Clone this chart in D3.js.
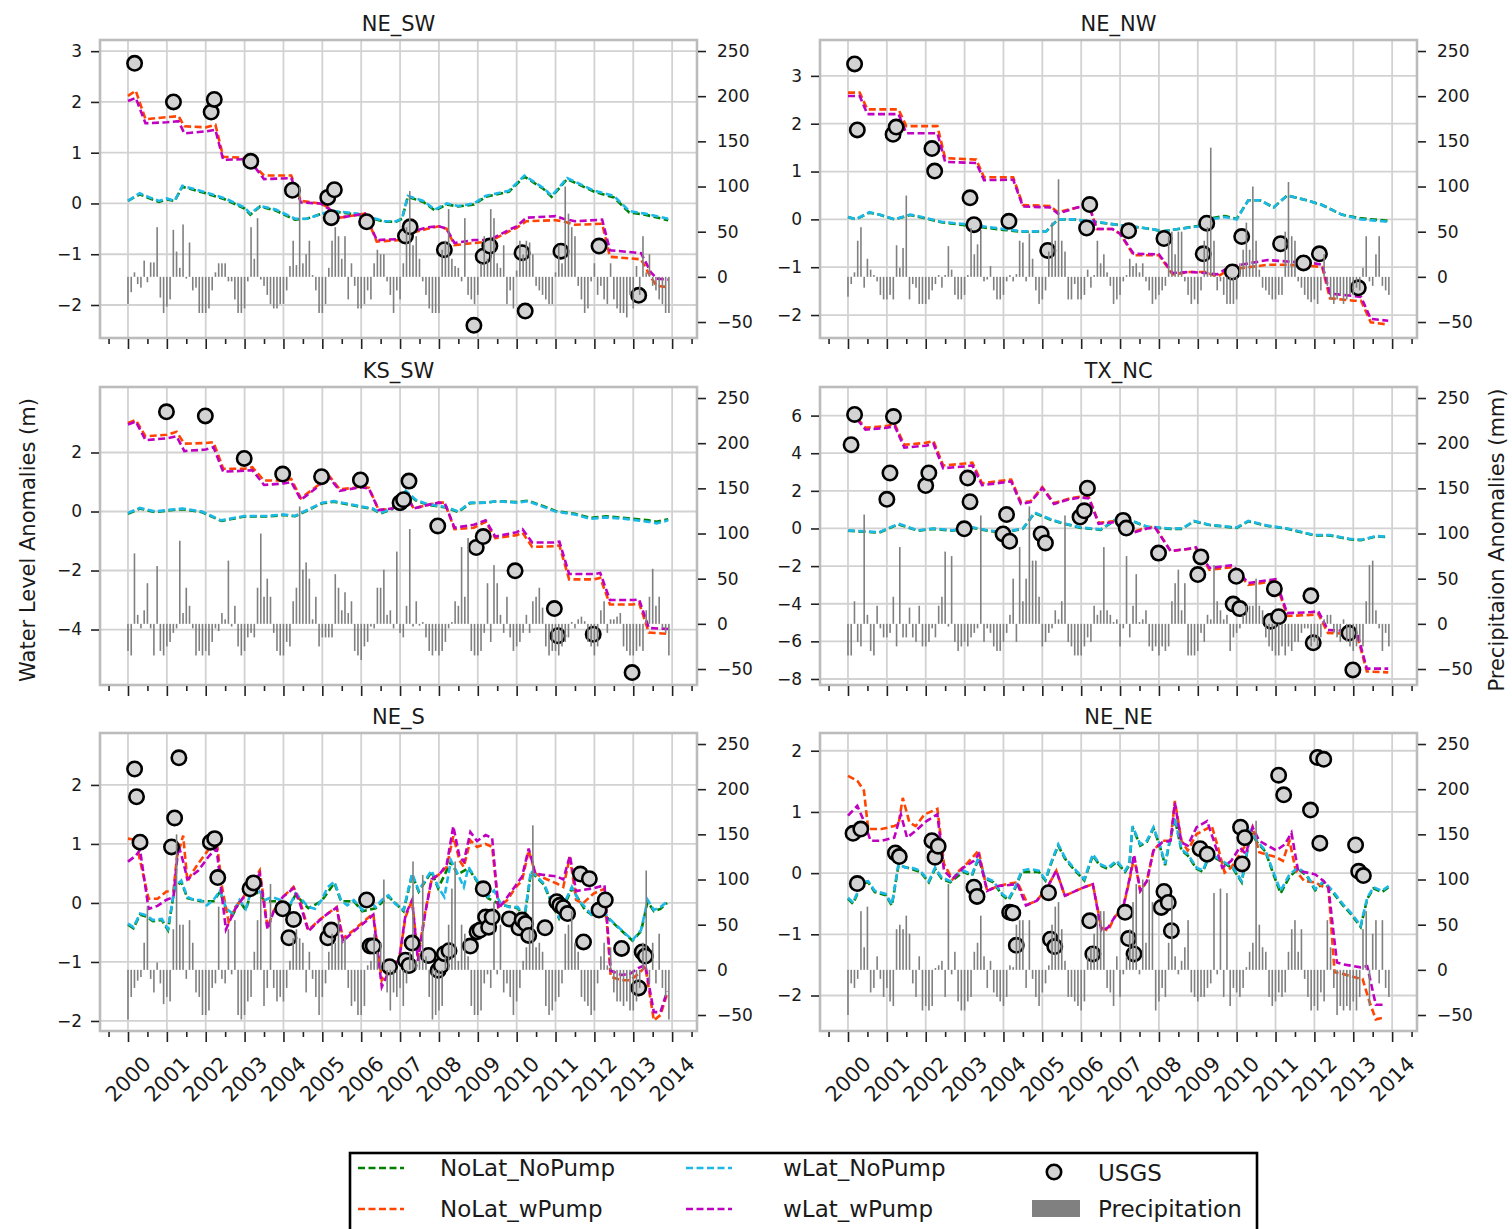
<!DOCTYPE html>
<html>
<head>
<meta charset="utf-8">
<script src="https://cdn.jsdelivr.net/npm/d3@7"></script>
<style>
body{margin:0;background:#fff}
text{font-family:"DejaVu Sans",sans-serif;fill:#1a1a1a}
</style>
</head>
<body>
<svg id="chart" width="1512" height="1229"></svg>
<script>
// ---------- data ----------
var yearTicks = [2000,2001,2002,2003,2004,2005,2006,2007,2008,2009,2010,2011,2012,2013,2014];
var precipTicks = [-50,0,50,100,150,200,250];
var seriesNames = ["NoLat_NoPump","NoLat_wPump","wLat_NoPump","wLat_wPump"];
var seriesColors = ["#008000","#ff4500","#1cb8e8","#c000c0"];

// NE_SW
var neSwNoLatNoPump = [[2000.0,0.05],[2000.3,0.18],[2000.55,0.1],[2000.8,0.03],[2001.0,0.08],[2001.2,0.05],[2001.4,0.33],[2002.0,0.2],[2002.5,0.08],[2003.0,-0.1],[2003.15,-0.22],[2003.4,-0.06],[2003.8,-0.14],[2004.3,-0.32],[2004.6,-0.3],[2005.0,-0.2],[2005.3,-0.16],[2005.9,-0.22],[2006.6,-0.36],[2006.9,-0.36],[2007.05,-0.3],[2007.2,0.13],[2007.6,0.03],[2007.9,-0.14],[2008.2,-0.02],[2008.5,-0.06],[2008.9,-0.02],[2009.2,0.13],[2009.8,0.23],[2010.2,0.53],[2010.7,0.28],[2010.9,0.13],[2011.3,0.48],[2012.0,0.23],[2012.5,0.12],[2012.9,-0.18],[2013.3,-0.22],[2013.9,-0.33]];
var neSwNoLatWPump = [[2000.0,2.12],[2000.2,2.22],[2000.45,1.66],[2001.0,1.7],[2001.3,1.72],[2001.45,1.52],[2002.0,1.5],[2002.25,1.55],[2002.45,0.92],[2002.95,0.9],[2003.3,0.7],[2003.5,0.55],[2004.2,0.55],[2004.45,0.05],[2004.95,0.0],[2005.2,-0.1],[2005.45,-0.28],[2006.1,-0.2],[2006.4,-0.75],[2007.0,-0.72],[2007.2,-0.6],[2007.7,-0.5],[2008.0,-0.45],[2008.2,-0.5],[2008.4,-0.82],[2008.9,-0.78],[2009.3,-0.75],[2009.8,-0.55],[2010.0,-0.48],[2010.25,-0.35],[2011.0,-0.33],[2011.2,-0.35],[2011.5,-0.42],[2012.2,-0.4],[2012.4,-1.05],[2013.2,-1.1],[2013.45,-1.45],[2013.6,-1.62],[2013.9,-1.65]];
var neSwWLatNoPump = [[2000.0,0.05],[2000.3,0.2],[2000.55,0.12],[2000.8,0.05],[2001.0,0.1],[2001.2,0.05],[2001.4,0.35],[2002.0,0.22],[2002.5,0.1],[2003.0,-0.08],[2003.15,-0.2],[2003.4,-0.05],[2003.8,-0.12],[2004.3,-0.3],[2004.6,-0.3],[2005.0,-0.2],[2005.3,-0.15],[2005.9,-0.2],[2006.6,-0.35],[2006.9,-0.35],[2007.05,-0.3],[2007.2,0.15],[2007.6,0.05],[2007.9,-0.12],[2008.2,0.0],[2008.5,-0.05],[2008.9,0.0],[2009.2,0.15],[2009.8,0.25],[2010.2,0.55],[2010.7,0.3],[2010.9,0.15],[2011.3,0.5],[2012.0,0.25],[2012.5,0.15],[2012.9,-0.15],[2013.3,-0.2],[2013.9,-0.3]];
var neSwWLatWPump = [[2000.0,2.02],[2000.2,2.08],[2000.45,1.58],[2001.0,1.6],[2001.3,1.62],[2001.45,1.38],[2002.0,1.42],[2002.25,1.45],[2002.45,0.86],[2002.95,0.87],[2003.3,0.68],[2003.5,0.48],[2004.2,0.5],[2004.45,0.02],[2004.95,0.0],[2005.2,-0.12],[2005.45,-0.28],[2006.1,-0.2],[2006.4,-0.72],[2007.0,-0.7],[2007.2,-0.58],[2007.7,-0.47],[2008.0,-0.45],[2008.2,-0.5],[2008.4,-0.78],[2008.9,-0.72],[2009.3,-0.72],[2009.8,-0.52],[2010.0,-0.45],[2010.25,-0.28],[2011.0,-0.25],[2011.2,-0.3],[2011.5,-0.35],[2012.2,-0.32],[2012.4,-0.92],[2013.2,-0.98],[2013.45,-1.35],[2013.6,-1.48],[2013.9,-1.5]];
var neSwUsgs = [[2000.17,2.76],[2001.17,2.0],[2002.14,1.8],[2002.22,2.05],[2003.16,0.83],[2004.23,0.26],[2005.14,0.12],[2005.31,0.27],[2005.23,-0.28],[2006.14,-0.36],[2007.14,-0.64],[2007.26,-0.46],[2008.14,-0.91],[2008.9,-2.4],[2009.14,-1.04],[2009.31,-0.84],[2010.14,-0.97],[2010.22,-2.12],[2011.14,-0.94],[2012.12,-0.84],[2013.14,-1.81]];
var neSwPrecip = [
 -30,-17,5,-8,-12,18,-6,16,16,55,-23,-40,
 -33,-25,52,28,10,58,-2,38,-15,-12,-40,-40,
 -40,-35,-15,5,15,15,15,-5,-5,-25,-40,-40,
 -35,-5,55,20,65,-3,-10,-20,-30,-35,-35,-30,
 -30,-15,12,40,13,100,15,25,40,2,-15,-40,
 -40,-30,10,40,55,45,20,45,-25,15,-10,-35,
 -35,-30,-15,-25,15,30,25,25,-5,-20,-40,-15,
 -25,15,55,95,35,45,20,-5,-20,-35,-40,-40,
 -40,30,40,75,20,12,10,-5,65,-20,-25,-30,
 -20,15,45,20,75,65,15,10,35,-30,-15,-35,
 7,40,25,40,38,25,-10,-15,-20,-25,-30,-30,
 5,35,15,100,70,55,45,-10,-25,-40,-35,-5,
 15,-20,-10,-25,-30,15,-25,-35,-40,-40,-45,-20,
 -35,12,-20,45,5,25,-10,-15,-25,-30,-40,-40];

// NE_NW
var neNwNoLatNoPump = [[2000.0,0.05],[2000.2,0.0],[2000.55,0.14],[2000.8,0.1],[2001.2,0.0],[2001.6,0.09],[2001.9,0.04],[2002.4,-0.06],[2003.0,-0.12],[2003.5,-0.17],[2004.0,-0.22],[2004.5,-0.26],[2005.1,-0.25],[2005.4,0.0],[2005.8,0.0],[2006.4,-0.06],[2006.8,-0.1],[2007.3,-0.15],[2007.8,-0.2],[2008.1,-0.25],[2008.5,-0.2],[2009.0,-0.14],[2009.3,0.02],[2009.7,0.07],[2010.0,0.01],[2010.3,0.4],[2010.6,0.4],[2010.95,0.25],[2011.3,0.5],[2011.8,0.4],[2012.2,0.3],[2012.7,0.1],[2013.2,0.02],[2013.9,-0.03]];
var neNwNoLatWPump = [[2000.0,2.65],[2000.3,2.65],[2000.5,2.3],[2001.3,2.3],[2001.5,1.95],[2002.3,1.95],[2002.5,1.28],[2003.3,1.25],[2003.5,0.88],[2004.25,0.88],[2004.5,0.3],[2005.2,0.28],[2005.4,0.15],[2005.9,0.25],[2006.2,0.3],[2006.4,-0.2],[2006.8,-0.2],[2007.0,-0.3],[2007.35,-0.75],[2008.0,-0.75],[2008.35,-1.15],[2008.8,-1.1],[2009.2,-1.1],[2009.5,-1.2],[2009.8,-1.05],[2010.3,-1.0],[2010.8,-0.95],[2011.3,-0.95],[2012.0,-0.98],[2012.2,-1.0],[2012.4,-1.65],[2013.0,-1.7],[2013.2,-1.7],[2013.45,-2.15],[2013.9,-2.2]];
var neNwWLatNoPump = [[2000.0,0.05],[2000.2,0.0],[2000.55,0.15],[2000.8,0.1],[2001.2,0.0],[2001.6,0.1],[2001.9,0.05],[2002.4,-0.05],[2003.0,-0.1],[2003.5,-0.15],[2004.0,-0.2],[2004.5,-0.25],[2005.1,-0.25],[2005.4,0.0],[2005.8,0.0],[2006.4,-0.05],[2006.8,-0.1],[2007.3,-0.15],[2007.8,-0.2],[2008.1,-0.25],[2008.5,-0.2],[2009.0,-0.15],[2009.3,0.0],[2009.7,0.05],[2010.0,0.0],[2010.3,0.4],[2010.6,0.4],[2010.95,0.25],[2011.3,0.5],[2011.8,0.4],[2012.2,0.3],[2012.7,0.1],[2013.2,0.0],[2013.9,-0.05]];
var neNwWLatWPump = [[2000.0,2.58],[2000.3,2.58],[2000.5,2.2],[2001.3,2.2],[2001.5,1.8],[2002.3,1.8],[2002.5,1.2],[2003.3,1.18],[2003.5,0.82],[2004.25,0.83],[2004.5,0.27],[2005.2,0.25],[2005.4,0.12],[2005.9,0.25],[2006.2,0.3],[2006.4,-0.2],[2006.8,-0.2],[2007.0,-0.3],[2007.35,-0.72],[2008.0,-0.73],[2008.35,-1.12],[2008.8,-1.1],[2009.2,-1.12],[2009.5,-1.15],[2009.8,-1.0],[2010.3,-0.92],[2010.8,-0.85],[2011.3,-0.88],[2012.0,-0.92],[2012.2,-0.95],[2012.4,-1.55],[2013.0,-1.6],[2013.2,-1.62],[2013.45,-2.08],[2013.9,-2.12]];
var neNwUsgs = [[2000.17,3.25],[2000.24,1.87],[2001.16,1.78],[2001.24,1.93],[2002.16,1.48],[2002.23,1.01],[2003.14,0.45],[2003.24,-0.11],[2004.14,-0.04],[2005.14,-0.65],[2006.14,-0.18],[2006.22,0.31],[2007.22,-0.24],[2008.13,-0.4],[2009.14,-0.72],[2009.23,-0.08],[2009.89,-1.1],[2010.13,-0.36],[2011.13,-0.51],[2011.72,-0.91],[2012.13,-0.72],[2013.13,-1.43]];
var neNwPrecip = [
 -22,-8,5,40,55,-12,20,8,2,-5,-20,-25,
 -25,-20,-25,35,10,32,90,-25,-8,-12,-30,-30,
 -30,-25,-15,-8,2,-12,2,34,8,-20,-25,-25,
 -20,2,54,25,36,52,-5,-3,12,-15,-25,-25,
 -20,-5,2,-5,3,40,38,-5,48,20,-15,-30,
 -25,-15,28,60,40,108,40,28,-25,-25,-8,-25,
 -25,-20,8,-12,2,40,15,25,5,-10,-30,-25,
 -20,-5,2,20,12,15,5,15,-5,-15,-30,-25,
 -20,-15,-10,45,50,25,50,50,-5,-20,-30,-25,
 -30,-15,40,55,143,40,-15,-5,-20,-30,-30,-30,
 -25,15,30,60,30,100,40,8,-12,-15,-20,-25,
 -25,-20,-20,50,105,45,40,-5,-12,-20,-25,-28,
 -25,-30,-15,25,-10,-25,-30,-25,-20,-30,-25,-20,
 -20,-12,-15,10,45,-5,-10,25,45,-10,-15,-20];

// KS_SW
var ksSwNoLatNoPump = [[2000.0,-0.08],[2000.3,0.1],[2000.7,-0.02],[2001.0,0.03],[2001.4,0.08],[2001.9,-0.02],[2002.4,-0.32],[2003.0,-0.17],[2003.6,-0.17],[2004.0,-0.12],[2004.3,-0.16],[2005.0,0.28],[2005.3,0.33],[2005.9,0.18],[2006.3,0.08],[2006.5,-0.07],[2006.8,0.08],[2007.15,0.68],[2007.4,0.38],[2007.7,0.23],[2008.2,0.13],[2008.5,-0.02],[2008.8,0.28],[2009.2,0.3],[2009.5,0.35],[2010.0,0.32],[2010.3,0.37],[2011.0,0.02],[2011.5,-0.08],[2011.9,-0.22],[2012.3,-0.16],[2012.8,-0.22],[2013.4,-0.3],[2013.6,-0.35],[2013.9,-0.26]];
var ksSwNoLatWPump = [[2000.0,3.0],[2000.2,3.1],[2000.45,2.55],[2001.0,2.6],[2001.25,2.7],[2001.45,2.3],[2002.0,2.32],[2002.2,2.35],[2002.45,1.45],[2003.0,1.45],[2003.2,1.5],[2003.5,1.05],[2004.0,1.05],[2004.2,1.1],[2004.45,0.45],[2004.9,0.9],[2005.0,1.1],[2005.15,1.25],[2005.45,0.75],[2005.8,0.8],[2006.0,0.85],[2006.2,0.8],[2006.45,0.05],[2006.8,0.1],[2007.0,0.4],[2007.15,0.6],[2007.35,0.1],[2007.8,0.25],[2008.0,0.3],[2008.15,0.3],[2008.4,-0.6],[2008.9,-0.55],[2009.2,-0.35],[2009.45,-0.9],[2010.0,-0.8],[2010.15,-0.72],[2010.4,-1.2],[2010.95,-1.18],[2011.1,-1.15],[2011.35,-2.3],[2012.0,-2.3],[2012.15,-2.25],[2012.4,-3.15],[2013.0,-3.15],[2013.15,-3.1],[2013.4,-4.1],[2013.9,-4.15]];
var ksSwWLatNoPump = [[2000.0,-0.05],[2000.3,0.12],[2000.7,0.0],[2001.0,0.05],[2001.4,0.1],[2001.9,0.0],[2002.4,-0.3],[2003.0,-0.15],[2003.6,-0.15],[2004.0,-0.1],[2004.3,-0.15],[2005.0,0.3],[2005.3,0.35],[2005.9,0.2],[2006.3,0.1],[2006.5,-0.05],[2006.8,0.1],[2007.15,0.7],[2007.4,0.4],[2007.7,0.25],[2008.2,0.15],[2008.5,0.0],[2008.8,0.3],[2009.2,0.3],[2009.5,0.35],[2010.0,0.3],[2010.3,0.35],[2011.0,0.0],[2011.5,-0.1],[2011.9,-0.25],[2012.3,-0.2],[2012.8,-0.25],[2013.4,-0.35],[2013.6,-0.4],[2013.9,-0.3]];
var ksSwWLatWPump = [[2000.0,2.95],[2000.2,3.05],[2000.45,2.42],[2001.0,2.48],[2001.25,2.55],[2001.45,2.05],[2002.0,2.1],[2002.2,2.18],[2002.45,1.35],[2003.0,1.38],[2003.2,1.4],[2003.5,0.9],[2004.0,0.95],[2004.2,1.0],[2004.45,0.4],[2004.9,0.85],[2005.0,1.05],[2005.15,1.2],[2005.45,0.7],[2005.8,0.78],[2006.0,0.82],[2006.2,0.78],[2006.45,0.05],[2006.8,0.1],[2007.0,0.4],[2007.15,0.6],[2007.35,0.1],[2007.8,0.25],[2008.0,0.3],[2008.15,0.28],[2008.4,-0.55],[2008.9,-0.45],[2009.2,-0.3],[2009.45,-0.85],[2010.0,-0.7],[2010.15,-0.6],[2010.4,-1.05],[2010.95,-1.05],[2011.1,-1.02],[2011.35,-2.12],[2012.0,-2.12],[2012.15,-2.08],[2012.4,-3.0],[2013.0,-3.0],[2013.15,-2.98],[2013.4,-3.95],[2013.9,-3.98]];
var ksSwUsgs = [[2000.99,3.38],[2001.99,3.24],[2002.99,1.8],[2003.98,1.27],[2004.98,1.18],[2005.98,1.07],[2007.0,0.3],[2007.09,0.4],[2007.23,1.03],[2007.97,-0.49],[2008.96,-1.22],[2009.14,-0.85],[2009.96,-2.01],[2010.97,-3.29],[2011.06,-4.21],[2011.97,-4.16],[2012.97,-5.46]];
var ksSwPrecip = [
 -30,-35,78,10,-5,15,45,-5,-35,64,-30,-35,
 -25,-20,-10,-5,92,12,40,20,-5,-35,-30,-35,
 -30,-35,-20,-5,-8,12,5,70,-3,20,-25,-35,
 -30,-15,-10,-15,40,100,30,50,30,-10,-30,-35,
 -35,-20,-25,25,40,130,60,68,50,5,30,-25,
 -15,-15,-15,-15,55,40,15,35,12,25,-30,-35,
 -40,-25,-20,-3,-5,40,40,60,10,15,-5,80,
 -10,-15,20,105,-3,25,-2,2,-15,-30,-35,-30,
 -35,-30,-20,-5,2,25,20,85,30,95,-30,-35,
 -35,-30,-10,45,-20,65,45,10,-10,30,-15,-30,
 -25,-20,-10,10,-10,25,30,40,18,-25,-35,-30,
 -30,-35,-25,-20,-15,2,-5,5,8,3,-20,-25,
 -35,-25,15,25,-10,5,5,8,12,-25,-30,-35,
 -35,-30,-25,-30,15,30,61,20,30,-5,-10,-35];

// TX_NC
var txNcNoLatNoPump = [[2000.0,-0.12],[2000.8,-0.22],[2001.3,0.22],[2001.8,-0.12],[2002.2,-0.02],[2002.7,-0.12],[2003.1,0.08],[2003.6,-0.12],[2004.0,-0.22],[2004.5,-0.02],[2004.8,0.82],[2005.2,0.48],[2005.5,0.28],[2006.0,0.03],[2006.5,-0.07],[2006.9,0.48],[2007.2,0.48],[2007.7,0.08],[2008.3,-0.02],[2008.6,-0.02],[2008.9,0.38],[2009.3,0.18],[2010.0,0.03],[2010.3,0.38],[2010.8,0.13],[2011.3,-0.02],[2011.6,-0.17],[2012.0,-0.37],[2012.4,-0.37],[2012.9,-0.57],[2013.2,-0.62],[2013.6,-0.42],[2013.9,-0.47]];
var txNcNoLatWPump = [[2000.0,6.0],[2000.2,5.95],[2000.45,5.35],[2001.0,5.45],[2001.2,5.55],[2001.45,4.45],[2002.0,4.55],[2002.2,4.65],[2002.45,3.35],[2003.0,3.45],[2003.2,3.5],[2003.45,2.4],[2004.0,2.55],[2004.2,2.6],[2004.45,1.4],[2004.7,1.45],[2005.0,2.2],[2005.3,1.35],[2005.7,1.6],[2006.0,1.7],[2006.2,1.65],[2006.45,0.3],[2006.7,0.35],[2006.9,0.4],[2007.3,-0.2],[2007.7,0.05],[2007.9,0.1],[2008.3,-1.2],[2008.7,-1.1],[2008.95,-1.05],[2009.3,-2.2],[2009.9,-2.05],[2010.3,-3.0],[2010.8,-2.85],[2011.0,-2.8],[2011.3,-4.65],[2011.9,-4.6],[2012.1,-4.55],[2012.35,-5.55],[2012.9,-5.6],[2013.1,-5.7],[2013.35,-7.6],[2013.9,-7.65]];
var txNcWLatNoPump = [[2000.0,-0.1],[2000.8,-0.2],[2001.3,0.25],[2001.8,-0.1],[2002.2,0.0],[2002.7,-0.1],[2003.1,0.1],[2003.6,-0.1],[2004.0,-0.2],[2004.5,0.0],[2004.8,0.85],[2005.2,0.5],[2005.5,0.3],[2006.0,0.05],[2006.5,-0.05],[2006.9,0.5],[2007.2,0.5],[2007.7,0.1],[2008.3,0.0],[2008.6,0.0],[2008.9,0.4],[2009.3,0.2],[2010.0,0.05],[2010.3,0.4],[2010.8,0.15],[2011.3,0.0],[2011.6,-0.15],[2012.0,-0.35],[2012.4,-0.35],[2012.9,-0.55],[2013.2,-0.6],[2013.6,-0.4],[2013.9,-0.45]];
var txNcWLatWPump = [[2000.0,5.95],[2000.2,5.9],[2000.45,5.25],[2001.0,5.35],[2001.2,5.45],[2001.45,4.3],[2002.0,4.4],[2002.2,4.5],[2002.45,3.2],[2003.0,3.3],[2003.2,3.35],[2003.45,2.3],[2004.0,2.45],[2004.2,2.5],[2004.45,1.3],[2004.7,1.4],[2005.0,2.15],[2005.3,1.3],[2005.7,1.55],[2006.0,1.65],[2006.2,1.6],[2006.45,0.25],[2006.7,0.3],[2006.9,0.35],[2007.3,-0.25],[2007.7,0.0],[2007.9,0.05],[2008.3,-1.2],[2008.7,-1.1],[2008.95,-1.0],[2009.3,-2.1],[2009.9,-1.95],[2010.3,-2.9],[2010.8,-2.75],[2011.0,-2.7],[2011.3,-4.5],[2011.9,-4.45],[2012.1,-4.4],[2012.35,-5.4],[2012.9,-5.45],[2013.1,-5.55],[2013.35,-7.45],[2013.9,-7.45]];
var txNcUsgs = [[2000.08,4.45],[2000.17,6.06],[2001.0,1.55],[2001.08,2.95],[2001.17,5.95],[2002.0,2.28],[2002.08,2.95],[2002.99,-0.02],[2003.08,2.68],[2003.14,1.42],[2003.99,-0.29],[2004.08,0.74],[2004.16,-0.68],[2004.97,-0.29],[2005.08,-0.77],[2005.97,0.61],[2006.08,0.94],[2006.16,2.14],[2007.08,0.43],[2007.16,0.02],[2007.99,-1.31],[2009.0,-2.45],[2009.08,-1.51],[2009.91,-4.02],[2009.99,-2.54],[2010.08,-4.26],[2010.88,-4.93],[2010.97,-3.2],[2011.08,-4.69],[2011.91,-3.58],[2011.97,-6.08],[2012.89,-5.56],[2012.99,-7.52]];
var txNcPrecip = [
 -35,-35,25,-20,-25,121,10,-30,-35,20,-5,-15,
 -15,-10,30,-25,85,-15,-15,18,-15,-20,20,-25,
 -25,-20,-5,-15,20,30,80,-3,75,-20,-30,-25,
 -20,-25,-15,-10,-5,120,-20,-5,-10,-25,-30,-30,
 -20,-10,10,50,-20,85,25,50,130,70,70,30,
 -25,-20,-10,-5,15,5,25,120,-20,-25,-35,-35,
 -35,-25,-15,-20,20,10,15,85,15,10,2,5,
 -25,-5,75,-15,20,55,2,5,15,-25,-30,-25,
 -35,-25,-30,-25,25,45,60,15,45,-35,-35,-35,
 -30,-10,-20,10,5,65,25,15,5,10,-30,-15,
 -10,-5,10,20,20,20,50,20,15,-15,-25,-30,
 -35,-35,-25,-35,-25,-30,-20,-20,-10,-5,-5,-25,
 -20,-25,-15,5,10,10,-10,-15,-20,5,-20,-25,
 -30,-25,-20,-25,25,65,70,15,-5,-30,-10,-25];

// NE_S
var neSNoLatNoPump = [[2000.0,-0.37],[2000.14,-0.43],[2000.31,-0.2],[2000.48,-0.23],[2000.64,-0.31],[2000.87,-0.29],[2001.03,-0.46],[2001.2,0.25],[2001.37,0.36],[2001.53,0.08],[2001.87,0.03],[2002.2,0.03],[2002.37,0.19],[2002.53,-0.12],[2002.7,-0.2],[2002.87,0.03],[2003.03,-0.12],[2003.2,0.25],[2003.53,0.03],[2003.92,0.03],[2004.14,-0.09],[2004.31,0.14],[2004.64,-0.09],[2004.98,0.03],[2005.31,0.34],[2005.48,0.03],[2005.81,0.03],[2006.03,-0.14],[2006.37,-0.09],[2006.7,0.11],[2007.09,-0.14],[2007.31,0.48],[2007.48,0.19],[2007.81,0.53],[2007.98,0.25],[2008.31,0.7],[2008.48,0.48],[2008.76,0.59],[2009.09,0.25],[2009.26,0.08],[2009.59,-0.03],[2010.03,-0.09],[2010.2,-0.26],[2010.37,0.53],[2010.7,0.31],[2010.92,-0.03],[2011.09,-0.26],[2011.42,0.25],[2011.76,-0.12],[2011.98,-0.22],[2012.2,-0.18],[2012.42,-0.3],[2012.7,-0.47],[2012.98,-0.64],[2013.2,-0.48],[2013.37,0.02],[2013.53,-0.14],[2013.7,-0.1],[2013.87,0.0]];
var neSNoLatWPump = [[2000.0,1.09],[2000.2,1.07],[2000.31,0.72],[2000.53,0.07],[2000.76,0.07],[2000.98,0.19],[2001.17,0.21],[2001.26,0.78],[2001.42,1.14],[2001.53,0.36],[2001.64,0.5],[2001.81,0.67],[2002.09,0.92],[2002.28,1.06],[2002.42,0.27],[2002.59,-0.32],[2002.76,-0.07],[2002.92,0.05],[2003.14,0.27],[2003.39,0.55],[2003.59,-0.41],[2003.76,-0.12],[2003.98,0.1],[2004.26,0.27],[2004.42,0.05],[2004.64,-0.46],[2004.92,-0.29],[2005.14,-0.18],[2005.37,-0.07],[2005.53,-0.6],[2005.81,-0.46],[2006.14,-0.27],[2006.31,-0.18],[2006.53,-1.31],[2006.7,-1.14],[2006.98,-0.94],[2007.14,-0.24],[2007.31,0.05],[2007.46,-0.92],[2007.64,-0.18],[2007.81,0.38],[2008.03,0.5],[2008.2,0.61],[2008.37,1.13],[2008.53,0.72],[2008.64,0.61],[2008.81,1.06],[2008.98,0.95],[2009.2,1.0],[2009.37,0.95],[2009.53,-0.07],[2009.76,0.05],[2009.98,0.27],[2010.14,0.38],[2010.31,0.89],[2010.48,0.5],[2010.64,0.44],[2011.03,0.33],[2011.2,0.27],[2011.37,0.78],[2011.53,0.05],[2011.7,-0.01],[2011.98,0.16],[2012.26,0.24],[2012.42,-1.25],[2012.7,-1.31],[2012.92,-1.31],[2013.14,-1.2],[2013.31,-1.08],[2013.53,-1.99],[2013.7,-1.9],[2013.87,-1.54]];
var neSWLatNoPump = [[2000.0,-0.35],[2000.14,-0.41],[2000.31,-0.18],[2000.48,-0.21],[2000.64,-0.29],[2000.87,-0.27],[2001.03,-0.44],[2001.2,0.27],[2001.37,0.38],[2001.53,0.1],[2001.7,0.05],[2001.87,0.05],[2002.03,-0.04],[2002.2,0.05],[2002.37,0.21],[2002.53,-0.1],[2002.7,-0.18],[2002.87,0.05],[2003.03,-0.1],[2003.2,0.27],[2003.37,0.21],[2003.53,0.05],[2003.7,0.1],[2003.92,0.05],[2004.14,-0.07],[2004.31,0.16],[2004.48,0.05],[2004.64,-0.07],[2004.81,-0.1],[2004.98,0.05],[2005.14,0.27],[2005.31,0.36],[2005.48,0.05],[2005.64,-0.04],[2005.81,0.05],[2006.03,-0.12],[2006.2,0.05],[2006.37,-0.07],[2006.53,0.05],[2006.7,0.13],[2006.87,-0.01],[2007.09,-0.12],[2007.31,0.5],[2007.48,0.21],[2007.64,0.38],[2007.81,0.55],[2007.98,0.27],[2008.14,0.1],[2008.31,0.72],[2008.48,0.5],[2008.64,0.27],[2008.76,0.61],[2008.92,0.44],[2009.09,0.27],[2009.26,0.1],[2009.42,0.21],[2009.59,-0.01],[2009.81,-0.07],[2010.03,-0.07],[2010.2,-0.24],[2010.37,0.55],[2010.53,0.44],[2010.7,0.33],[2010.92,-0.01],[2011.09,-0.24],[2011.26,0.05],[2011.42,0.27],[2011.59,0.05],[2011.76,-0.07],[2011.98,-0.24],[2012.2,-0.12],[2012.42,-0.29],[2012.7,-0.46],[2012.98,-0.63],[2013.2,-0.46],[2013.37,0.05],[2013.53,-0.12],[2013.7,-0.07],[2013.87,0.02]];
var neSWLatWPump = [[2000.0,0.7],[2000.2,0.8],[2000.31,0.9],[2000.53,-0.1],[2000.76,-0.05],[2000.98,0.05],[2001.17,0.1],[2001.3,0.98],[2001.42,0.7],[2001.53,0.4],[2001.81,0.55],[2002.09,0.8],[2002.28,0.92],[2002.42,0.1],[2002.52,-0.45],[2002.76,-0.1],[2002.92,0.05],[2003.14,0.22],[2003.39,0.5],[2003.59,-0.45],[2003.76,-0.12],[2003.98,0.1],[2004.26,0.25],[2004.42,0.0],[2004.64,-0.48],[2004.92,-0.3],[2005.14,-0.18],[2005.37,-0.08],[2005.53,-0.65],[2005.81,-0.48],[2006.14,-0.3],[2006.31,-0.2],[2006.53,-1.42],[2006.7,-1.18],[2006.98,-0.95],[2007.14,-0.2],[2007.31,0.05],[2007.46,-0.98],[2007.64,-0.2],[2007.81,0.4],[2008.03,0.5],[2008.2,0.65],[2008.37,1.3],[2008.53,0.78],[2008.64,0.7],[2008.81,1.2],[2008.98,1.05],[2009.2,1.15],[2009.37,1.1],[2009.53,-0.1],[2009.76,0.1],[2009.98,0.3],[2010.14,0.45],[2010.31,0.92],[2010.48,0.5],[2010.64,0.48],[2011.03,0.45],[2011.2,0.4],[2011.37,0.8],[2011.53,0.2],[2011.7,0.22],[2011.98,0.25],[2012.26,0.3],[2012.42,-1.15],[2012.7,-1.22],[2012.92,-1.2],[2013.14,-1.1],[2013.31,-1.05],[2013.53,-1.85],[2013.7,-1.85],[2013.87,-1.5]];
var neSUsgs = [[2000.17,2.27],[2000.22,1.8],[2000.31,1.03],[2001.12,0.95],[2001.2,1.44],[2001.31,2.46],[2002.12,1.03],[2002.23,1.09],[2002.31,0.43],[2003.14,0.24],[2003.23,0.34],[2003.98,-0.1],[2004.14,-0.59],[2004.26,-0.28],[2005.14,-0.59],[2005.23,-0.46],[2006.14,0.05],[2006.23,-0.73],[2006.31,-0.73],[2006.73,-1.08],[2007.14,-0.97],[2007.23,-1.06],[2007.31,-0.68],[2007.73,-0.89],[2007.98,-1.14],[2008.06,-1.06],[2008.14,-0.86],[2008.26,-0.81],[2008.81,-0.73],[2008.98,-0.49],[2009.06,-0.46],[2009.14,0.24],[2009.2,-0.24],[2009.28,-0.41],[2009.37,-0.24],[2009.81,-0.27],[2010.06,-0.42],[2010.14,-0.29],[2010.23,-0.35],[2010.31,-0.55],[2010.73,-0.42],[2011.03,0.02],[2011.11,-0.04],[2011.2,-0.08],[2011.31,-0.18],[2011.64,0.49],[2011.72,-0.66],[2011.87,0.41],[2012.12,-0.12],[2012.28,0.05],[2012.7,-0.77],[2013.14,-1.44],[2013.23,-0.83],[2013.31,-0.9]];
var neSPrecip = [
 -55,-30,-20,-12,-8,30,70,-10,-25,8,-15,-38,
 -30,-35,45,150,50,50,-10,55,30,-25,-30,-50,
 -50,-45,-20,-15,70,-10,-15,45,-5,55,-50,-55,
 -50,-35,-30,20,55,85,-40,-20,95,-20,-35,-30,
 -35,-20,10,35,45,35,30,-25,20,-10,-30,-50,
 -30,-15,20,40,30,55,35,35,-20,-40,-35,-50,
 -50,-40,5,10,40,20,30,100,-25,-45,-25,-30,
 -20,-40,-15,20,120,10,15,105,15,-30,-55,-50,
 -45,-40,15,50,90,120,10,50,40,15,-40,-50,
 -50,-45,-15,-5,-20,75,-5,50,-25,-15,-30,-50,
 -35,-20,10,25,45,160,25,30,20,-40,-50,-45,
 -35,-30,-15,40,50,65,30,20,-30,-35,-40,-50,
 -45,-15,15,30,5,25,-25,-35,-35,-40,-35,-45,
 -45,-35,-20,30,110,-15,30,-15,40,-20,-30,-55];

// NE_NE
var neNeNoLatNoPump = [[2000.0,-0.42],[2000.13,-0.5],[2000.36,-0.17],[2000.52,-0.15],[2000.69,-0.31],[2000.97,-0.36],[2001.13,-0.53],[2001.3,0.13],[2001.63,0.07],[2001.86,0.02],[2002.08,-0.15],[2002.24,0.07],[2002.41,-0.09],[2002.63,-0.15],[2002.97,0.02],[2003.19,-0.04],[2003.36,0.24],[2003.52,-0.09],[2003.74,-0.15],[2003.97,-0.36],[2004.13,-0.44],[2004.3,-0.25],[2004.47,0.02],[2004.91,0.02],[2005.08,-0.12],[2005.24,0.18],[2005.41,0.45],[2005.58,0.24],[2005.8,0.07],[2006.08,-0.12],[2006.3,0.29],[2006.47,0.13],[2006.69,0.07],[2006.91,0.18],[2007.13,0.02],[2007.24,0.13],[2007.32,0.75],[2007.52,0.45],[2007.69,0.51],[2007.86,0.73],[2008.02,0.45],[2008.16,0.13],[2008.24,0.4],[2008.41,0.89],[2008.58,0.37],[2008.74,0.29],[2008.97,0.07],[2009.13,0.02],[2009.3,0.29],[2009.47,0.24],[2009.63,0.18],[2009.91,0.07],[2010.13,-0.15],[2010.36,0.67],[2010.52,0.51],[2010.74,0.35],[2010.97,-0.06],[2011.13,-0.33],[2011.36,-0.06],[2011.58,0.07],[2011.8,-0.04],[2012.02,-0.28],[2012.24,-0.15],[2012.47,-0.31],[2012.74,-0.53],[2012.97,-0.69],[2013.19,-0.88],[2013.36,-0.42],[2013.52,-0.25],[2013.74,-0.31],[2013.91,-0.23]];
var neNeNoLatWPump = [[2000.0,1.59],[2000.24,1.51],[2000.41,1.35],[2000.52,0.72],[2000.86,0.72],[2001.19,0.77],[2001.3,0.8],[2001.41,1.23],[2001.58,0.83],[2001.74,0.77],[2001.97,0.96],[2002.3,1.05],[2002.47,0.15],[2002.69,-0.1],[2002.86,0.04],[2003.08,0.17],[2003.36,0.37],[2003.58,-0.29],[2003.86,-0.21],[2004.08,-0.18],[2004.36,-0.15],[2004.63,-0.51],[2004.86,-0.45],[2005.13,-0.23],[2005.36,0.04],[2005.58,-0.37],[2005.86,-0.29],[2006.08,-0.23],[2006.3,-0.18],[2006.52,-0.89],[2006.69,-0.94],[2006.86,-0.72],[2007.08,-0.56],[2007.24,-0.13],[2007.36,0.26],[2007.52,-0.29],[2007.69,-0.13],[2007.86,0.37],[2008.08,0.53],[2008.3,0.53],[2008.41,1.18],[2008.58,0.53],[2008.74,0.37],[2008.97,0.64],[2009.13,0.69],[2009.36,0.77],[2009.52,0.42],[2009.69,0.01],[2009.86,0.09],[2010.08,0.31],[2010.24,0.47],[2010.41,0.75],[2010.58,0.34],[2010.74,0.31],[2011.02,0.26],[2011.19,0.2],[2011.36,0.53],[2011.52,0.04],[2011.74,-0.13],[2012.02,-0.15],[2012.24,-0.23],[2012.36,-0.23],[2012.52,-1.62],[2012.74,-1.65],[2013.08,-1.71],[2013.24,-1.73],[2013.41,-2.09],[2013.58,-2.39],[2013.8,-2.36]];
var neNeWLatNoPump = [[2000.0,-0.4],[2000.13,-0.48],[2000.36,-0.15],[2000.52,-0.13],[2000.69,-0.29],[2000.97,-0.34],[2001.13,-0.51],[2001.3,0.15],[2001.47,0.09],[2001.63,0.09],[2001.86,0.04],[2002.08,-0.13],[2002.24,0.09],[2002.41,-0.07],[2002.63,-0.13],[2002.8,-0.02],[2002.97,0.04],[2003.19,-0.02],[2003.36,0.26],[2003.52,-0.07],[2003.74,-0.13],[2003.97,-0.34],[2004.13,-0.42],[2004.3,-0.23],[2004.47,0.04],[2004.69,0.07],[2004.91,0.04],[2005.08,-0.1],[2005.24,0.2],[2005.41,0.47],[2005.58,0.26],[2005.8,0.09],[2006.08,-0.1],[2006.3,0.31],[2006.47,0.15],[2006.69,0.09],[2006.91,0.2],[2007.13,0.04],[2007.24,0.15],[2007.32,0.77],[2007.52,0.47],[2007.69,0.53],[2007.86,0.75],[2008.02,0.47],[2008.16,0.15],[2008.24,0.42],[2008.41,0.91],[2008.58,0.39],[2008.74,0.31],[2008.97,0.09],[2009.13,0.04],[2009.3,0.31],[2009.47,0.26],[2009.63,0.2],[2009.91,0.09],[2010.13,-0.13],[2010.36,0.69],[2010.52,0.53],[2010.74,0.37],[2010.97,-0.02],[2011.13,-0.29],[2011.36,-0.02],[2011.58,0.09],[2011.8,-0.02],[2012.02,-0.26],[2012.24,-0.13],[2012.47,-0.29],[2012.74,-0.51],[2012.97,-0.67],[2013.19,-0.86],[2013.36,-0.4],[2013.52,-0.23],[2013.74,-0.29],[2013.91,-0.21]];
var neNeWLatWPump = [[2000.0,0.94],[2000.24,1.1],[2000.41,0.85],[2000.58,0.53],[2000.86,0.53],[2001.19,0.58],[2001.36,0.96],[2001.52,0.58],[2001.74,0.69],[2002.02,0.85],[2002.3,0.96],[2002.47,0.04],[2002.69,-0.1],[2002.97,0.09],[2003.24,0.2],[2003.36,0.31],[2003.58,-0.29],[2003.86,-0.21],[2004.08,-0.2],[2004.36,-0.18],[2004.58,-0.53],[2004.86,-0.45],[2005.13,-0.23],[2005.36,0.04],[2005.58,-0.37],[2005.86,-0.29],[2006.08,-0.23],[2006.3,-0.18],[2006.52,-0.94],[2006.69,-0.89],[2006.86,-0.72],[2007.08,-0.56],[2007.24,-0.1],[2007.36,0.3],[2007.52,-0.29],[2007.69,-0.13],[2007.86,0.37],[2008.08,0.5],[2008.3,0.53],[2008.41,1.15],[2008.58,0.5],[2008.74,0.45],[2008.97,0.75],[2009.24,0.85],[2009.41,0.53],[2009.63,0.09],[2009.86,0.2],[2010.08,0.42],[2010.24,0.31],[2010.41,0.75],[2010.58,0.53],[2010.74,0.47],[2011.02,0.37],[2011.24,0.47],[2011.41,0.66],[2011.58,0.04],[2012.02,-0.02],[2012.24,-0.13],[2012.36,-0.23],[2012.58,-1.46],[2012.74,-1.49],[2013.19,-1.54],[2013.36,-1.52],[2013.58,-2.15],[2013.8,-2.15]];
var neNeUsgs = [[2000.13,0.65],[2000.33,0.72],[2000.24,-0.17],[2001.22,0.33],[2001.32,0.27],[2002.16,0.53],[2002.24,0.26],[2002.32,0.44],[2003.24,-0.23],[2003.32,-0.38],[2004.16,-0.64],[2004.24,-0.65],[2004.33,-1.18],[2005.16,-0.32],[2005.21,-1.08],[2005.32,-1.2],[2006.22,-0.78],[2006.3,-1.32],[2007.13,-0.64],[2007.22,-1.07],[2007.36,-1.32],[2008.06,-0.56],[2008.13,-0.3],[2008.24,-0.48],[2008.32,-0.94],[2009.06,0.4],[2009.24,0.31],[2010.1,0.75],[2010.14,0.15],[2010.21,0.58],[2011.08,1.6],[2011.21,1.28],[2011.9,1.03],[2012.08,1.89],[2012.14,0.49],[2012.24,1.86],[2013.06,0.46],[2013.14,0.03],[2013.26,-0.04]];
var neNePrecip = [
 -50,-15,-20,-10,65,25,70,-25,-20,15,-10,-30,
 -20,-35,-40,45,50,45,60,40,-15,-30,15,-45,
 -40,-45,-40,2,5,10,-30,95,-5,20,-35,-45,
 -45,-35,-30,20,30,60,15,-20,10,-25,-30,-35,
 -40,-30,5,3,50,55,55,-20,55,-10,-30,-40,
 -25,-15,5,50,70,75,45,10,-30,-30,-35,-40,
 -45,-35,15,25,40,60,65,65,-20,-25,-40,15,
 -30,-5,15,45,75,95,-5,100,30,100,75,-45,
 -35,-20,-30,30,80,15,-5,10,25,55,-25,-30,
 -35,-30,-30,-20,-15,85,-5,90,-30,85,-40,-20,
 -25,-30,-20,3,20,30,165,50,25,20,-30,-40,
 -35,-25,-30,-25,20,45,55,20,45,-10,-30,-45,
 -40,-45,-25,-35,55,25,-20,-50,-40,-45,-40,-45,
 -35,-45,-30,45,65,-40,40,55,-15,55,-20,-30];

// ---------- table of panels (built from the arrays above) ----------
var panels = [
  {name:"NE_SW", col:0, row:0, yDomain:[-2.65,3.22], yTicks:[-2,-1,0,1,2,3],
   lines:[neSwNoLatNoPump,neSwNoLatWPump,neSwWLatNoPump,neSwWLatWPump], usgs:neSwUsgs, precip:neSwPrecip},
  {name:"NE_NW", col:1, row:0, yDomain:[-2.48,3.75], yTicks:[-2,-1,0,1,2,3],
   lines:[neNwNoLatNoPump,neNwNoLatWPump,neNwWLatNoPump,neNwWLatWPump], usgs:neNwUsgs, precip:neNwPrecip},
  {name:"KS_SW", col:0, row:1, yDomain:[-5.88,4.22], yTicks:[-4,-2,0,2],
   lines:[ksSwNoLatNoPump,ksSwNoLatWPump,ksSwWLatNoPump,ksSwWLatWPump], usgs:ksSwUsgs, precip:ksSwPrecip},
  {name:"TX_NC", col:1, row:1, yDomain:[-8.32,7.52], yTicks:[-8,-6,-4,-2,0,2,4,6],
   lines:[txNcNoLatNoPump,txNcNoLatWPump,txNcWLatNoPump,txNcWLatWPump], usgs:txNcUsgs, precip:txNcPrecip},
  {name:"NE_S", col:0, row:2, yDomain:[-2.17,2.88], yTicks:[-2,-1,0,1,2],
   lines:[neSNoLatNoPump,neSNoLatWPump,neSWLatNoPump,neSWLatWPump], usgs:neSUsgs, precip:neSPrecip},
  {name:"NE_NE", col:1, row:2, yDomain:[-2.58,2.29], yTicks:[-2,-1,0,1,2],
   lines:[neNeNoLatNoPump,neNeNoLatWPump,neNeWLatNoPump,neNeWLatWPump], usgs:neNeUsgs, precip:neNePrecip}
];

// ---------- layout ----------
var svg = d3.select("#chart");
var colX = [100, 820], rowY = [40, 387, 733];
var W = 597, H = 298;
var xDomain = [1999.28, 2014.64];
var pDomain = [-67.7, 262.2];
var gridColor = "#d2d2d2", frameColor = "#bcbcbc", tickColor = "#222";
var dash = "7,3.5";

panels.forEach(function(p, k){
    var x0 = colX[p.col], y0 = rowY[p.row];
    var x = d3.scaleLinear().domain(xDomain).range([x0, x0 + W]);
    var y = d3.scaleLinear().domain(p.yDomain).range([y0 + H, y0]);
    var yP = d3.scaleLinear().domain(pDomain).range([y0 + H, y0]);

    var g = svg.append("g").attr("class", "panel");

    g.append("clipPath").attr("id", "clip" + k)
        .append("rect").attr("x", x0).attr("y", y0).attr("width", W).attr("height", H);

    // grid
    g.selectAll(".vgrid").data(yearTicks).enter().append("line")
        .attr("x1", function(d){ return x(d); }).attr("x2", function(d){ return x(d); })
        .attr("y1", y0).attr("y2", y0 + H)
        .style("stroke", gridColor).style("stroke-width", 1.8);
    g.selectAll(".hgrid").data(p.yTicks).enter().append("line")
        .attr("x1", x0).attr("x2", x0 + W)
        .attr("y1", function(d){ return y(d); }).attr("y2", function(d){ return y(d); })
        .style("stroke", gridColor).style("stroke-width", 1.8);

    var plot = g.append("g").attr("clip-path", "url(#clip" + k + ")");

    // model lines
    var line = d3.line().x(function(d){ return x(d[0]); }).y(function(d){ return y(d[1]); });
    p.lines.forEach(function(ser, s){
        plot.append("path")
            .datum(ser)
            .attr("d", line)
            .style("fill", "none")
            .style("stroke", seriesColors[s])
            .style("stroke-width", 2.6)
            .style("stroke-dasharray", dash);
    });

    // USGS observations
    plot.selectAll(".usgs").data(p.usgs).enter().append("circle")
        .attr("cx", function(d){ return x(d[0]); })
        .attr("cy", function(d){ return y(d[1]); })
        .attr("r", 7.2)
        .style("fill", "#d3d3d3")
        .style("stroke", "#000")
        .style("stroke-width", 2.6);

    // precipitation bars (twin axis, drawn on top)
    plot.selectAll(".bar").data(p.precip).enter().append("rect")
        .attr("x", function(d, i){ return x(2000 + i / 12) - 0.8; })
        .attr("y", function(d){ return Math.min(yP(d), yP(0)); })
        .attr("width", 1.6)
        .attr("height", function(d){ return Math.abs(yP(d) - yP(0)); })
        .style("fill", "#808080");

    // frame
    g.append("rect")
        .attr("x", x0).attr("y", y0).attr("width", W).attr("height", H)
        .style("fill", "none").style("stroke", frameColor).style("stroke-width", 2.6);

    // axes
    var left = g.append("g").attr("transform", "translate(" + (x0 - 1) + ",0)")
        .call(d3.axisLeft(y).tickValues(p.yTicks).tickSize(8).tickPadding(9).tickFormat(d3.format("d")));
    var right = g.append("g").attr("transform", "translate(" + (x0 + W + 1) + ",0)")
        .call(d3.axisRight(yP).tickValues(precipTicks).tickSize(8).tickPadding(11).tickFormat(d3.format("d")));
    var bottom = g.append("g").attr("transform", "translate(0," + (y0 + H + 1) + ")")
        .call(d3.axisBottom(x).tickValues(yearTicks).tickSize(10).tickFormat(""));
    var minor = g.append("g").attr("transform", "translate(0," + (y0 + H + 1) + ")")
        .call(d3.axisBottom(x).tickValues(d3.range(1999.5, 2015, 1)).tickSize(5).tickFormat(""));

    [left, right, bottom, minor].forEach(function(a){
        a.select(".domain").remove();
        a.selectAll(".tick line").style("stroke", tickColor).style("stroke-width", 1.6);
        a.selectAll(".tick text").style("font-size", "17px").style("font-family", "DejaVu Sans").style("fill", "#1a1a1a");
    });

    // title
    g.append("text")
        .attr("x", x0 + W / 2).attr("y", y0 - 9)
        .attr("text-anchor", "middle")
        .style("font-size", "21px")
        .text(p.name);

    // rotated year labels on the bottom row
    if (p.row == 2) {
        g.selectAll(".xlab").data(yearTicks).enter().append("text")
            .attr("transform", function(d){ return "translate(" + x(d) + "," + (y0 + H + 48) + ") rotate(-45)"; })
            .attr("text-anchor", "middle")
            .attr("dy", "0.35em")
            .style("font-size", "21px")
            .text(function(d){ return d; });
    }
});

// axis titles
svg.append("text")
    .attr("transform", "translate(35,540) rotate(-90)")
    .attr("text-anchor", "middle")
    .style("font-size", "21px")
    .text("Water Level Anomalies (m)");
svg.append("text")
    .attr("transform", "translate(1504,540) rotate(-90)")
    .attr("text-anchor", "middle")
    .style("font-size", "21px")
    .text("Precipitaion Anomalies (mm)");

// ---------- legend ----------
var legend = svg.append("g");
legend.append("rect")
    .attr("x", 350).attr("y", 1153).attr("width", 907).attr("height", 100)
    .style("fill", "#fff").style("stroke", "#000").style("stroke-width", 2.6);

var legendPos = [[358, 440, 1168], [358, 440, 1209], [686, 783, 1168], [686, 783, 1209]];
seriesNames.forEach(function(name, i){
    var lp = legendPos[i];
    legend.append("line")
        .attr("x1", lp[0]).attr("x2", lp[0] + 46)
        .attr("y1", lp[2]).attr("y2", lp[2])
        .style("stroke", seriesColors[i]).style("stroke-width", 2.6)
        .style("stroke-dasharray", dash);
    legend.append("text")
        .attr("x", lp[1]).attr("y", lp[2]).attr("dy", "0.35em")
        .style("font-size", "23px")
        .text(name);
});
legend.append("circle")
    .attr("cx", 1054).attr("cy", 1172).attr("r", 7.2)
    .style("fill", "#d3d3d3").style("stroke", "#000").style("stroke-width", 2.6);
legend.append("text")
    .attr("x", 1098).attr("y", 1173).attr("dy", "0.35em")
    .style("font-size", "23px").text("USGS");
legend.append("rect")
    .attr("x", 1032).attr("y", 1200).attr("width", 48).attr("height", 17)
    .style("fill", "#808080");
legend.append("text")
    .attr("x", 1098).attr("y", 1209).attr("dy", "0.35em")
    .style("font-size", "23px").text("Precipitation");
</script>
</body>
</html>
